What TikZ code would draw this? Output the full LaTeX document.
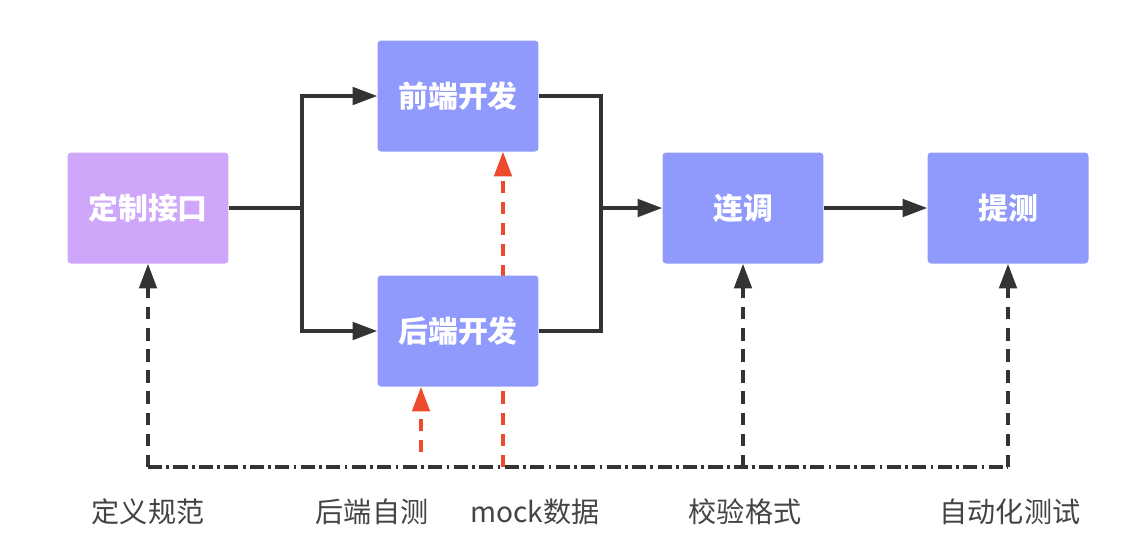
\documentclass[tikz,border=0pt]{standalone}
\usepackage{fontspec}
\newfontfamily\cjk{Noto Sans CJK SC}
\usetikzlibrary{arrows.meta,backgrounds}
\definecolor{boxblue}{HTML}{9099FC}
\definecolor{boxpurple}{HTML}{CEA6FA}
\definecolor{mockred}{HTML}{EE4A2E}
\definecolor{linegray}{HTML}{333333}
\definecolor{labelgray}{HTML}{444444}

\begin{document}
\begin{tikzpicture}[x=.02cm,y=-.02cm,
  stage/.style={fill=boxblue,rounded corners=2pt,minimum width=3.22cm,minimum height=2.22cm,
    inner sep=0pt,text=white,font=\cjk\bfseries\fontsize{17}{19}\selectfont},
  flow/.style={draw=linegray,line width=1.9pt},
  tip/.style={-{Triangle[length=14pt,width=10pt]}},
  check/.style={flow,dash pattern=on 7pt off 5pt},
  mock/.style={draw=mockred,line width=1.9pt,dash pattern=on 7pt off 5pt,-{Triangle[length=14pt,width=10pt]}},
  base/.style={flow,dash pattern=on 8pt off 2.5pt on 1.5pt off 2.5pt},
  note/.style={text=labelgray,font=\cjk\fontsize{16}{18}\selectfont}]
\path[use as bounding box] (0,0) rectangle (1132,539);

% stages
\node[stage,fill=boxpurple] (iface) at (148,208) {定制接口};
\node[stage] (front) at (458,96) {前端开发};
\node[stage] (back) at (458,331) {后端开发};
\node[stage] (joint) at (743,208) {连调};
\node[stage] (qa) at (1008,208) {提测};

\coordinate (split) at (302,208);
\coordinate (merge) at (601,208);

% main flow
\draw[flow] (iface) -- (split);
\draw[flow,tip] (split) |- (front);
\draw[flow,tip] (split) |- (back);
\draw[flow] (front) -| (merge);
\draw[flow] (back) -| (merge);
\draw[flow,tip] (merge) -- (joint);
\draw[flow,tip] (joint) -- (qa);

% checks along the bottom
\coordinate (spec) at (148,467);
\coordinate (selftest) at (421,452);
\coordinate (mockdata) at (503,467);
\coordinate (verify) at (743,467);
\coordinate (autotest) at (1008,467);
\draw[base] (spec) -- (autotest);
\draw[check,tip] (spec) -- (iface);
\draw[check,tip] (verify) -- (joint);
\draw[check,tip] (autotest) -- (qa);
\draw[mock] (selftest) -- (selftest |- back.south);
\begin{scope}[on background layer]
\draw[mock] (mockdata) -- (mockdata |- front.south);
\end{scope}

% labels
\node[note] (lspec) at (148,512) {定义规范};
\node[note] (lself) at (372,512) {后端自测};
\node[note] (lmock) at (535,512) {mock数据};
\node[note] (lverify) at (745,512) {校验格式};
\node[note] (lauto) at (1010,512) {自动化测试};
\end{tikzpicture}
\end{document}
